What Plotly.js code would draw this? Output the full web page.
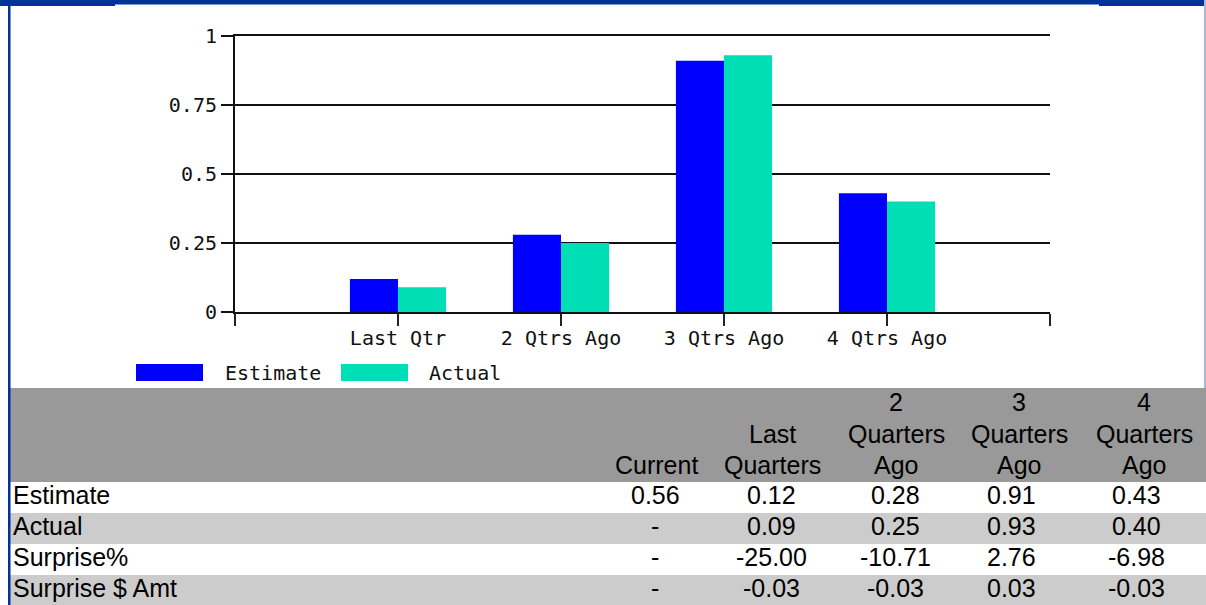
<!DOCTYPE html>
<html>
<head>
<meta charset="utf-8">
<script src="https://cdn.plot.ly/plotly-3.0.1.min.js"></script>
<style>
  html, body { margin: 0; padding: 0; background: #ffffff; }
  #chart { width: 1206px; height: 605px; }
</style>
</head>
<body>
<div id="chart"></div>
<script>
// ---------- chart data ----------
const categories = ['Last Qtr', '2 Qtrs Ago', '3 Qtrs Ago', '4 Qtrs Ago'];
const estimateValues = [0.12, 0.28, 0.91, 0.43];
const actualValues = [0.09, 0.25, 0.93, 0.40];
const yTickValues = [0, 0.25, 0.5, 0.75, 1];
const yTickLabels = ['0', '0.25', '0.5', '0.75', '1'];
const seriesNames = ['Estimate', 'Actual'];

// ---------- table data ----------
const headerLines = [
  ['', '', 'Current'],
  ['', 'Last', 'Quarters'],
  ['2', 'Quarters', 'Ago'],
  ['3', 'Quarters', 'Ago'],
  ['4', 'Quarters', 'Ago']
];
const rowLabels = ['Estimate', 'Actual', 'Surprise%', 'Surprise $ Amt'];
const rowEstimate = ['0.56', '0.12', '0.28', '0.91', '0.43'];
const rowActual = ['-', '0.09', '0.25', '0.93', '0.40'];
const rowSurprisePct = ['-', '-25.00', '-10.71', '2.76', '-6.98'];
const rowSurpriseAmt = ['-', '-0.03', '-0.03', '0.03', '-0.03'];
const tableRows = [rowEstimate, rowActual, rowSurprisePct, rowSurpriseAmt];

// ---------- styling / layout constants ----------
const COLORS = { estimate: '#0000ff', actual: '#00deb5' };
const W = 1206, H = 605;
const PL = 235, PR = 1050, PT = 36, PB = 312;
const px = x => (x - PL) / (PR - PL);
const py = y => (PB - y) / (PB - PT);

const chartFont = { family: 'DejaVu Sans Mono, monospace', size: 20, color: '#111111' };
const tableFont = { family: 'Liberation Sans, Arial, sans-serif', size: 25, color: '#000000' };

const xPos = categories.map((c, i) => i + 1);

const traces = [
  { type: 'bar', name: seriesNames[0], x: xPos, y: estimateValues,
    marker: { color: COLORS.estimate, line: { width: 0 } }, hoverinfo: 'skip' },
  { type: 'bar', name: seriesNames[1], x: xPos, y: actualValues,
    marker: { color: COLORS.actual, line: { width: 0 } }, hoverinfo: 'skip' }
];

const shapes = [];
const annotations = [];

// frame
shapes.push({ type: 'rect', xref: 'paper', yref: 'paper', x0: px(0), x1: px(W), y0: py(0), y1: py(4.5), fillcolor: '#003399', line: { width: 0 } });
shapes.push({ type: 'rect', xref: 'paper', yref: 'paper', x0: px(0), x1: px(115), y0: py(0), y1: py(6), fillcolor: '#003399', line: { width: 0 } });
shapes.push({ type: 'rect', xref: 'paper', yref: 'paper', x0: px(1099), x1: px(W), y0: py(0), y1: py(6), fillcolor: '#003399', line: { width: 0 } });
shapes.push({ type: 'rect', xref: 'paper', yref: 'paper', x0: px(1204), x1: px(1206), y0: py(0), y1: py(388), fillcolor: '#a8b8d8', line: { width: 0 } });

// table backgrounds
const tableLeft = 10, tableRight = W;
const headerTop = 388, headerBottom = 482, rowH = 31;
shapes.push({ type: 'rect', xref: 'paper', yref: 'paper', x0: px(tableLeft), x1: px(tableRight), y0: py(headerTop), y1: py(headerBottom), fillcolor: '#999999', line: { width: 0 } });
const rowFills = ['#ffffff', '#cccccc', '#ffffff', '#cccccc'];
tableRows.forEach((r, i) => {
  const top = headerBottom + i * rowH;
  shapes.push({ type: 'rect', xref: 'paper', yref: 'paper', x0: px(tableLeft), x1: px(tableRight), y0: py(top), y1: py(i === tableRows.length - 1 ? H : top + rowH), fillcolor: rowFills[i], line: { width: 0 } });
});
// left border
shapes.push({ type: 'rect', xref: 'paper', yref: 'paper', x0: px(8), x1: px(10.5), y0: py(0), y1: py(H), fillcolor: '#003399', line: { width: 0 } });

// header text
const headerCenters = [656, 772, 896, 1019, 1144];
const headerLineY = [402, 433.5, 465];
headerLines.forEach((lines, j) => {
  lines.forEach((t, k) => {
    if (!t) return;
    annotations.push({ xref: 'paper', yref: 'paper', x: px(headerCenters[j]), y: py(headerLineY[k]), text: t, showarrow: false, xanchor: 'center', yanchor: 'middle', font: tableFont });
  });
});

// row text
const valueCenters = [655, 771, 895, 1011, 1136];
tableRows.forEach((r, i) => {
  const cy = headerBottom + i * rowH + 13;
  annotations.push({ xref: 'paper', yref: 'paper', x: px(11), y: py(cy), text: rowLabels[i], showarrow: false, xanchor: 'left', yanchor: 'middle', font: tableFont });
  r.forEach((v, j) => {
    annotations.push({ xref: 'paper', yref: 'paper', x: px(valueCenters[j]), y: py(cy), text: v, showarrow: false, xanchor: 'center', yanchor: 'middle', font: tableFont });
  });
});

// custom legend
const legendItems = [
  { name: seriesNames[0], color: COLORS.estimate, sx: 136, tx: 223 },
  { name: seriesNames[1], color: COLORS.actual, sx: 341, tx: 427 }
];
legendItems.forEach(it => {
  shapes.push({ type: 'rect', xref: 'paper', yref: 'paper', x0: px(it.sx), x1: px(it.sx + 67), y0: py(364), y1: py(381), fillcolor: it.color, line: { width: 0 } });
  annotations.push({ xref: 'paper', yref: 'paper', x: px(it.tx), y: py(373), text: it.name, showarrow: false, xanchor: 'left', yanchor: 'middle', font: chartFont });
});

const layout = {
  width: W, height: H,
  margin: { l: PL, r: W - PR, t: PT, b: H - PB, pad: 0 },
  paper_bgcolor: '#ffffff', plot_bgcolor: '#ffffff',
  showlegend: false,
  hovermode: false,
  barmode: 'group', bargap: 0.41, bargroupgap: 0,
  font: chartFont,
  xaxis: {
    range: [0, 5], tickmode: 'array',
    tickvals: [0].concat(xPos, [5]), ticktext: [''].concat(categories, ['']),
    ticks: 'outside', ticklen: 12, tickwidth: 2, tickcolor: '#222222',
    ticklabelstandoff: -5,
    showline: true, mirror: true, linecolor: '#111111', linewidth: 2,
    showgrid: false, zeroline: false, fixedrange: true,
    tickfont: chartFont
  },
  yaxis: {
    range: [0, 1], tickmode: 'array', tickvals: yTickValues, ticktext: yTickLabels,
    ticks: 'outside', ticklen: 12, tickwidth: 2, tickcolor: '#111111',
    showline: true, linecolor: '#111111', linewidth: 2,
    showgrid: true, gridcolor: '#111111', gridwidth: 2,
    zeroline: false, fixedrange: true,
    tickfont: chartFont
  },
  shapes: shapes,
  annotations: annotations
};

Plotly.newPlot('chart', traces, layout, { displayModeBar: false, staticPlot: true });
</script>
</body>
</html>
